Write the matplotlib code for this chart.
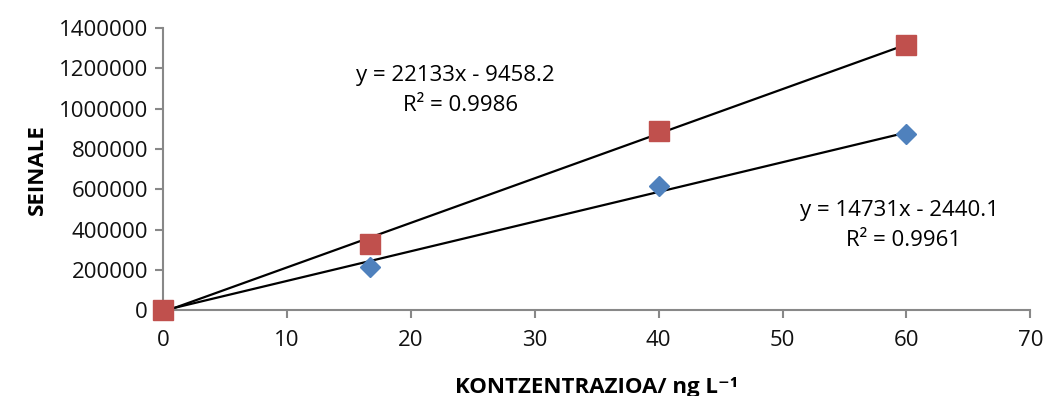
import numpy as np
import matplotlib.pyplot as plt

# Datuak
x = [0, 16.67, 40, 60]
seinale_1 = [0, 213000, 618000, 876000]
seinale_2 = [0, 327000, 888000, 1318000]

# Joera-lerroak (etiketetatik)
malda_1, ebakidura_1 = 14731, -2440.1
malda_2, ebakidura_2 = 22133, -9458.2
r2_1 = 0.9961
r2_2 = 0.9986

plt.rcParams['font.family'] = ['Open Sans', 'DejaVu Sans']

fig = plt.figure(figsize=(10.46, 3.96), dpi=100)
ax = fig.add_axes([0.156, 0.217, 0.829, 0.712])

xl = np.array([0, 60])
ax.plot(xl, malda_1 * xl + ebakidura_1, color='black', lw=1.6, zorder=2)
ax.plot(xl, malda_2 * xl + ebakidura_2, color='black', lw=1.6, zorder=2)

ax.plot(x, seinale_1, 'D', color='#4F81BD', markersize=10, zorder=3, clip_on=False)
ax.plot(x, seinale_2, 's', color='#C0504D', markersize=15, zorder=3, clip_on=False)

ax.set_xlim(0, 70)
ax.set_ylim(0, 1400000)
ax.set_xticks(range(0, 71, 10))
ax.set_yticks(range(0, 1400001, 200000))
ax.set_yticklabels([str(v) for v in range(0, 1400001, 200000)])

for s in ['top', 'right']:
    ax.spines[s].set_visible(False)
for s in ['left', 'bottom']:
    ax.spines[s].set_color('#888888')
    ax.spines[s].set_linewidth(1.5)
ax.tick_params(colors='#888888', labelcolor='#111111', labelsize=16, width=1.5, length=6)
ax.tick_params(axis='x', pad=8)
ax.tick_params(axis='y', pad=5)

ax.set_ylabel('SEINALE', fontsize=16, fontweight='bold', labelpad=8)
ax.set_xlabel('KONTZENTRAZIOA/ ng L⁻¹', fontsize=16, fontweight='bold', labelpad=19)

ax.text(23.6, 1166000, 'y = %dx - %.1f' % (malda_2, -ebakidura_2), fontsize=16, ha='center', va='center')
ax.text(24.0, 1017000, 'R² = %.4f' % r2_2, fontsize=16, ha='center', va='center')
ax.text(59.4, 496000, 'y = %dx - %.1f' % (malda_1, -ebakidura_1), fontsize=16, ha='center', va='center')
ax.text(59.8, 347000, 'R² = %.4f' % r2_1, fontsize=16, ha='center', va='center')

fig.savefig('out.png', dpi=100)
